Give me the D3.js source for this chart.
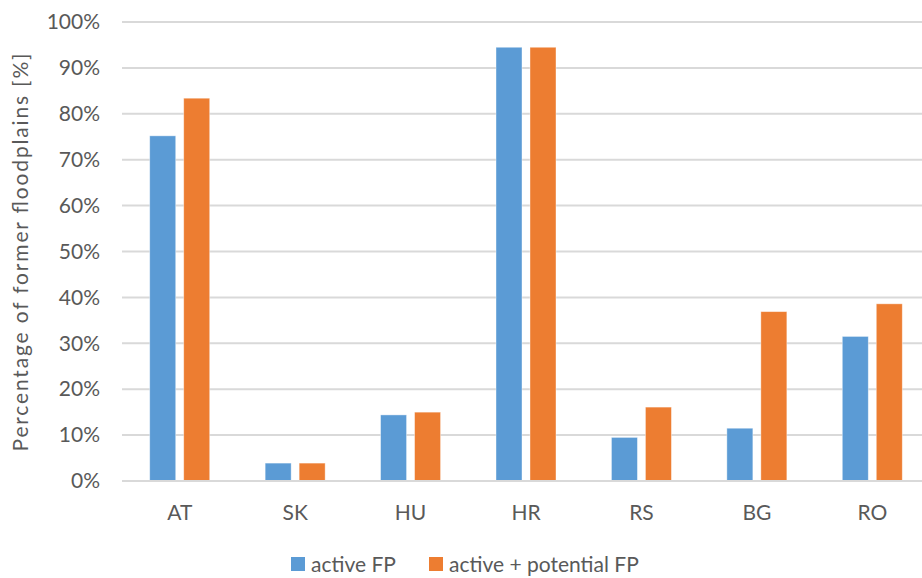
<!DOCTYPE html>
<html>
<head>
<meta charset="utf-8">
<script src="https://cdn.jsdelivr.net/npm/d3@7/dist/d3.min.js"></script>
<style>
  html, body { margin: 0; padding: 0; background: #fff; }
  svg { display: block; font-family: Lato, "Open Sans", sans-serif; }
</style>
</head>
<body>
<svg id="chart" width="922" height="578"></svg>
<script>
const categories = ["AT", "SK", "HU", "HR", "RS", "BG", "RO"];
const seriesNames = ["active FP", "active + potential FP"];
const activeFP = [75.2, 3.9, 14.4, 94.5, 9.5, 11.5, 31.5];
const activePotentialFP = [83.4, 3.9, 15.0, 94.5, 16.1, 36.9, 38.6];
const yTicks = [0, 10, 20, 30, 40, 50, 60, 70, 80, 90, 100];
const colors = ["#5b9bd5", "#ed7d31"];

const svg = d3.select("#chart");
const textColor = "#595959";
const fontSize = 21;

const x = d3.scaleBand().domain(categories).range([122, 930]).paddingInner(0).paddingOuter(0);
const xSub = d3.scaleBand().domain(seriesNames).range([-30, 30]).paddingInner(0.235).paddingOuter(0);
const y = d3.scaleLinear().domain([0, 100]).range([481, 22]);

// gridlines
svg.append("g")
  .selectAll("line")
  .data(yTicks)
  .join("line")
  .attr("x1", 122).attr("x2", 922)
  .attr("y1", d => y(d)).attr("y2", d => y(d))
  .attr("stroke", "#d9d9d9").attr("stroke-width", 2);

// y axis labels
const yAxis = d3.axisLeft(y).tickValues(yTicks).tickFormat(d => d + "%").tickSize(0).tickPadding(0);
const ya = svg.append("g").attr("transform", "translate(100,0)").call(yAxis);
ya.select(".domain").remove();
ya.selectAll("text").attr("fill", textColor).attr("font-size", fontSize).attr("font-family", "Lato, sans-serif");

// bars
const rows = categories.map((c, i) => ({ cat: c, values: [activeFP[i], activePotentialFP[i]] }));
const groups = svg.append("g").selectAll("g")
  .data(rows).join("g")
  .attr("transform", d => `translate(${x(d.cat) + x.bandwidth() / 2},0)`);
groups.selectAll("rect")
  .data(d => d.values.map((v, j) => ({ name: seriesNames[j], v, j })))
  .join("rect")
  .attr("x", d => xSub(d.name))
  .attr("width", xSub.bandwidth())
  .attr("y", d => y(d.v))
  .attr("height", d => y(0) - y(d.v))
  .attr("fill", d => colors[d.j])
  .attr("stroke", "#ffffff").attr("stroke-opacity", 0.5).attr("stroke-width", 0.8);

// x axis
const xAxis = d3.axisBottom(x).tickSize(0).tickPadding(0);
const xa = svg.append("g").attr("transform", `translate(0,${y(0)})`).call(xAxis);
xa.select(".domain").attr("stroke", "#d9d9d9").attr("stroke-width", 2).attr("d", `M122,0H922`);
xa.selectAll("text").attr("fill", textColor).attr("font-size", fontSize).attr("font-family", "Lato, sans-serif")
  .attr("dy", null).attr("y", 39);

// y title
svg.append("text")
  .attr("transform", `translate(28,${(y(0) + y(100)) / 2 + 1}) rotate(-90)`)
  .attr("text-anchor", "middle")
  .attr("fill", textColor).attr("font-size", fontSize)
  .attr("textLength", 398).attr("lengthAdjust", "spacing")
  .text("Percentage of former floodplains [%]");

// legend
const legendX = [291, 429];
const leg = svg.append("g").selectAll("g").data(seriesNames).join("g")
  .attr("transform", (d, i) => `translate(${legendX[i]},0)`);
leg.append("rect").attr("x", 0).attr("y", 557).attr("width", 14).attr("height", 14)
  .attr("fill", (d, i) => colors[i]);
leg.append("text").attr("x", 20).attr("y", 572)
  .attr("fill", textColor).attr("font-size", fontSize)
  .text(d => d);
</script>
</body>
</html>
